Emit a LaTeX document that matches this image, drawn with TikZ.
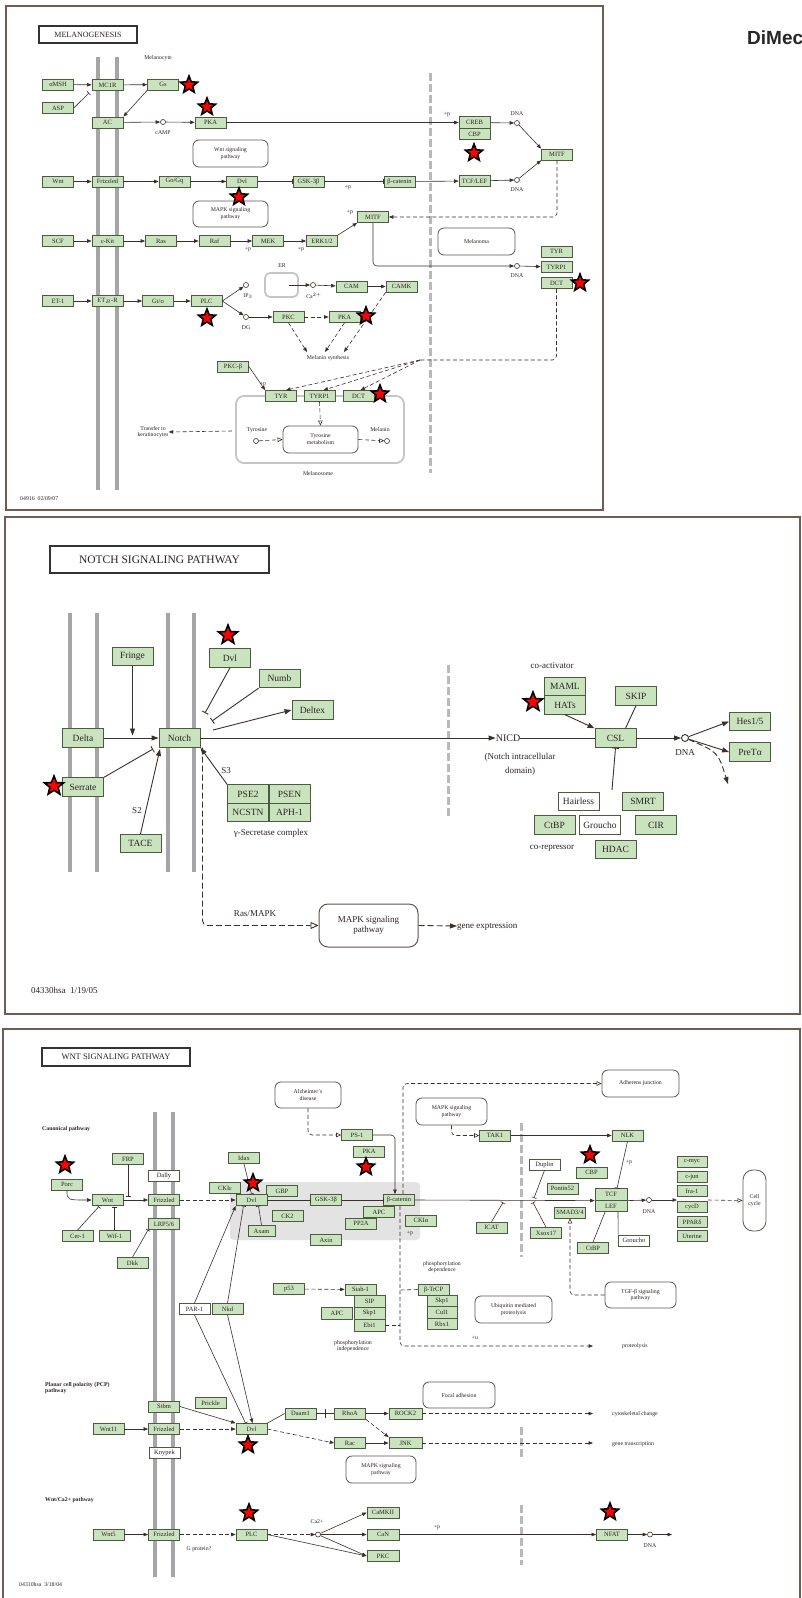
\documentclass[tikz,border=0pt]{standalone}
\usepackage{fontspec}
\setmainfont{Liberation Serif}
\newfontfamily\sansb{Liberation Sans}
\usetikzlibrary{arrows.meta,shapes.geometric}
\definecolor{bfill}{RGB}{200,227,190}
\definecolor{bdraw}{RGB}{75,90,65}
\definecolor{linec}{RGB}{60,48,44}
\definecolor{memc}{RGB}{165,165,168}
\definecolor{gdc}{RGB}{185,185,188}
\definecolor{tcol}{RGB}{45,35,35}
\definecolor{panc}{RGB}{115,90,85}
\definecolor{pwc}{RGB}{95,85,80}
\tikzset{
 gb/.style={draw=bdraw, fill=bfill, line width=0.7pt, minimum width=31pt, minimum height=11pt, inner sep=0pt, font=\fontsize{6.5}{6.5}\selectfont, text=tcol},
 gbw/.style={gb, fill=white},
 nb/.style={gb, minimum width=41pt, minimum height=18.5pt, line width=0.9pt, font=\fontsize{9.5}{10}\selectfont},
 nbw/.style={nb, fill=white},
 pw/.style={draw=pwc, fill=white, rounded corners=6pt, line width=0.8pt, align=center, inner sep=0pt, font=\fontsize{5.8}{6.8}\selectfont, text=tcol},
 npw/.style={pw, rounded corners=9pt, line width=1pt, font=\fontsize{9}{10.5}\selectfont},
 lab/.style={inner sep=0pt, align=center, font=\fontsize{5.8}{6.8}\selectfont, text=tcol},
 nlab/.style={lab, font=\fontsize{9}{10.5}\selectfont},
 blab/.style={inner sep=0pt, align=left, anchor=west, font=\bfseries\fontsize{5.8}{6.8}\selectfont, text=tcol},
 ttl/.style={draw=black!80, line width=1.3pt, fill=white, inner sep=0pt, text=tcol},
 cir/.style={circle, draw=linec, fill=white, line width=0.6pt, minimum size=5pt, inner sep=0pt},
 rs/.style={star, star points=5, star point ratio=2.3, fill=red, draw=black, line width=1.6pt, minimum size=18pt, inner sep=0pt},
 ln/.style={draw=linec, line width=0.6pt},
 ar/.style={ln, -{Triangle[length=4.5pt,width=3.5pt]}},
 inh/.style={ln, -{Bar[width=5pt]}},
 dar/.style={ar, dash pattern=on 4pt off 2.5pt},
 dln/.style={ln, dash pattern=on 4pt off 2.5pt},
 oar/.style={dln, -{Triangle[open,length=5pt,width=4.5pt]}},
 nln/.style={draw=linec, line width=0.9pt},
 nar/.style={nln, -{Triangle[length=7pt,width=5pt]}},
 ninh/.style={nln, -{Bar[width=7pt]}},
 ndar/.style={nar, dash pattern=on 6pt off 3pt},
 noar/.style={nln, dash pattern=on 6pt off 3pt, -{Triangle[open,length=8pt,width=7pt]}},
 mem/.style={draw=memc, line width=4pt},
 gdash/.style={draw=gdc, line width=3pt, dash pattern=on 8pt off 3pt},
 panel/.style={draw=panc, line width=1.2pt},
 grayb/.style={draw=gray!45, line width=1.8pt, inner sep=0pt},
}
\begin{document}
\begin{tikzpicture}[x=1pt,y=-1pt]
\useasboundingbox (0,0) rectangle (801,1598);
\clip (0,0) rectangle (801,1598);
\fill[white] (0,0) rectangle (801,1598);

% ================= MELANOGENESIS =================
\draw[panel] (6,6) rectangle (603,510);
\node[anchor=west, font=\sansb\bfseries\fontsize{19}{19}\selectfont, text=black!85, inner sep=0pt] (dime) at (747,38) {DiMec};
\node[ttl, minimum width=98pt, minimum height=17pt, font=\fontsize{8}{8}\selectfont] (t1) at (88,34.5) {MELANOGENESIS};
\node[lab] (melanocyte) at (158,58) {Melanocyte};
\draw[mem] (98,57) -- (98,490);
\draw[mem] (117,57) -- (117,490);
\draw[gdash] (430,73) -- (430,473);

\node[pw, minimum width=75pt, minimum height=27pt] (wntpw) at (230.5,153.5) {Wnt signaling\\pathway};
\node[pw, minimum width=75pt, minimum height=26pt] (mapkpw1) at (230.5,214) {MAPK signaling\\pathway};
\node[grayb, rounded corners=5pt, minimum width=33pt, minimum height=24pt] (ER) at (281.5,285) {};
\node[lab] (erl) at (282,266) {ER};
\node[grayb, rounded corners=8pt, minimum width=168pt, minimum height=67pt] (melanosome) at (320,429.5) {};
\node[pw, minimum width=77pt, minimum height=27pt] (melanoma) at (476.5,241.5) {Melanoma};
\node[pw, minimum width=75pt, minimum height=27pt] (tyrmet) at (320.5,439.5) {Tyrosine\\metabolism};

\node[gb] (aMSH) at (58,84.5) {αMSH};
\node[gb] (MC1R) at (107.5,85) {MC1R};
\node[gb] (Gs) at (163,84.5) {Gs};
\node[gb] (ASP) at (58,108) {ASP};
\node[gb] (AC) at (107.5,122.5) {AC};
\node[cir] (cAMP) at (163,122) {};
\node[lab] (cAMPl) at (163,133) {cAMP};
\node[gb] (PKAa) at (210.5,122.5) {PKA};

\node[gb] (Wnta) at (58,181.5) {Wnt};
\node[gb] (Fza) at (107.5,181.5) {Frizzled};
\node[gb] (GoGq) at (174.5,181.5) {Go/Gq};
\node[gb] (Dvla) at (242,181.5) {Dvl};
\node[gb] (GSKa) at (308.5,181.5) {GSK-3β};
\node[gb] (bcata) at (399.5,181.5) {β-catenin};
\node[lab] (pp1) at (348,187) {+p};
\node[gb] (MITFb) at (373,217) {MITF};
\node[lab] (pp2) at (350,212) {+p};

\node[gb] (SCF) at (58,241) {SCF};
\node[gb] (cKit) at (107.5,241) {c-Kit};
\node[gb] (Ras) at (161,241) {Ras};
\node[gb] (Raf) at (214.5,241) {Raf};
\node[gb] (MEK) at (268,241) {MEK};
\node[gb] (ERK) at (322,241) {ERK1/2};
\node[lab] (pp3) at (248,249) {+p};
\node[lab] (pp4) at (301,249) {+p};

\node[gb] (ET1) at (58,301) {ET-1};
\node[gb] (ETBR) at (107.5,301) {ET$_B$-R};
\node[gb] (Gio) at (158,301) {Gi/o};
\node[gb] (PLCa) at (206.5,301) {PLC};
\node[cir] (IP3) at (246,285) {};
\node[lab] (IP3l) at (248,296) {IP$_3$};
\node[cir] (Ca) at (313,285) {};
\node[lab] (Cal) at (314,296) {Ca$^{2+}$};
\node[gb] (CAM) at (351.5,286.5) {CAM};
\node[gb] (CAMK) at (401.5,286.5) {CAMK};
\node[cir] (DG) at (246,317) {};
\node[lab] (DGl) at (246,328) {DG};
\node[gb] (PKCa) at (288.5,317) {PKC};
\node[gb] (PKAb) at (344.5,317) {PKA};
\node[lab] (msyn) at (328,358) {Melanin synthesis};
\node[gb] (PKCb) at (233,366.5) {PKC-β};
\node[lab] (pp5) at (263,384) {+p};
\node[gb] (TYRa) at (281,396) {TYR};
\node[gb] (TYRPa) at (319.5,396) {TYRP1};
\node[gb] (DCTa) at (358.5,396) {DCT};
\node[lab] (tyrl) at (257,430) {Tyrosine};
\node[cir] (tyrc) at (256,441) {};
\node[lab] (mell) at (380,430) {Melanin};
\node[cir] (melc) at (387,441) {};
\node[lab] (transfer) at (153,432) {Transfer to\\keratinocytes};
\node[lab] (melsl) at (318,474) {Melanosome};
\node[lab, anchor=west] (code1) at (20,499) {04916\ \ 02/09/07};

\node[gb, minimum height=11.5pt] (CREB) at (474.5,122.5) {CREB};
\node[gb, minimum height=11.5pt] (CBP) at (474.5,134) {CBP};
\node[lab] (pp6) at (447,114) {+p};
\node[cir] (dna1) at (517,123) {};
\node[lab] (dna1l) at (517,114) {DNA};
\node[gb] (MITFa) at (557,154.5) {MITF};
\node[gb] (TCFa) at (474.5,181) {TCF/LEF};
\node[cir] (dna2) at (517,180) {};
\node[lab] (dna2l) at (517,190) {DNA};
\node[gb] (TYRb) at (556.5,251.5) {TYR};
\node[gb] (TYRPb) at (556.5,267) {TYRP1};
\node[gb] (DCTb) at (556.5,283) {DCT};
\node[cir] (dna3) at (517,266) {};
\node[lab] (dna3l) at (517,276) {DNA};

% connectors
\coordinate (aspE) at (89,93);
\draw[ar] (aMSH) -- (MC1R);
\draw[inh] (ASP.east) -- (aspE);
\draw[ar] (MC1R) -- (Gs);
\draw[ar] (Gs.south west) -- (AC.north east);
\draw[ar] (AC) -- (cAMP);
\draw[ar] (cAMP) -- (PKAa);
\draw[ar] (PKAa) -- (CREB);
\draw[ar] (CREB) -- (dna1);
\draw[ar] (dna1) -- (MITFa.north west);
\draw[ar] (Wnta) -- (Fza);
\draw[ar] (Fza) -- (GoGq);
\draw[ar] (GoGq) -- (Dvla);
\draw[inh] (Dvla) -- (GSKa);
\draw[inh] (GSKa) -- (bcata);
\draw[ar] (bcata) -- (TCFa);
\draw[ar] (TCFa) -- (dna2);
\draw[ar] (dna2) -- (MITFa.south west);
\draw[dar, rounded corners=4pt] (MITFa.south) |- (MITFb.east);
\draw[ar] (SCF) -- (cKit);
\draw[ar] (cKit) -- (Ras);
\draw[ar] (Ras) -- (Raf);
\draw[ar] (Raf) -- (MEK);
\draw[ar] (MEK) -- (ERK);
\draw[ar] (ERK.north east) -- (MITFb.south west);
\draw[ar, rounded corners=4pt] (MITFb.south) |- (dna3);
\draw[ar] (dna3) -- (TYRPb);
\draw[ar] (ET1) -- (ETBR);
\draw[ar] (ETBR) -- (Gio);
\draw[ar] (Gio) -- (PLCa);
\draw[ar] (PLCa.east) -- (IP3);
\draw[ar] (PLCa.east) -- (DG);
\coordinate (erin) at (289,285);
\draw[ar] (erin) -- (Ca);
\draw[ar] (Ca) -- (CAM);
\draw[ar] (CAM) -- (CAMK);
\draw[ar] (DG) -- (PKCa);
\draw[dar] (PKCa) -- (PKAb);
\coordinate (ms1) at (307,352);
\coordinate (ms2) at (325,352);
\coordinate (ms3) at (344,352);
\draw[dar] (PKCa.south) -- (ms1);
\draw[dar] (PKAb.south) -- (ms2);
\draw[dar] (CAMK.south west) -- (ms3);
\coordinate (fan) at (420,360);
\draw[dln, rounded corners=4pt] (DCTb.south) |- (fan);
\draw[dar] (fan) -- ([xshift=5pt]TYRa.north);
\draw[dar] (fan) -- ([xshift=4pt]TYRPa.north);
\draw[dar] (fan) -- ([xshift=2pt]DCTa.north);
\draw[ar] (PKCb.east) -- (TYRa.north west);
\draw[oar] (TYRPa.south) -- (tyrmet.north);
\draw[oar] (tyrc) -- (tyrmet.west);
\draw[oar] (tyrmet.east) -- (melc);
\coordinate (trs) at (232,431);
\draw[dar] (trs) -- (transfer.east);

\node[rs] (s1) at (189,85) {};
\node[rs] (s2) at (207,107) {};
\node[rs] (s3) at (239,197) {};
\node[rs] (s4) at (207,318) {};
\node[rs] (s5) at (366,316) {};
\node[rs] (s6) at (380,394) {};
\node[rs] (s7) at (474,153) {};
\node[rs] (s8) at (580,283) {};

% ================= NOTCH =================
\draw[panel] (5,517) rectangle (800,1014);
\node[ttl, minimum width=219pt, minimum height=27pt, font=\fontsize{11.5}{12}\selectfont] (t2) at (159.5,559.5) {NOTCH SIGNALING PATHWAY};
\foreach \xx in {70,97,168,194} \draw[mem] (\xx,613) -- (\xx,872);
\draw[gdash] (448,665) -- (448,817);

\node[npw, minimum width=99pt, minimum height=43pt] (MAPK2) at (368.5,925.5) {MAPK signaling\\pathway};
\node[nb] (Fringe) at (132.5,656.5) {Fringe};
\node[nb] (Dvl2) at (230,658) {Dvl};
\node[nb] (Numb) at (279.5,678.5) {Numb};
\node[nb] (Deltex) at (312.5,710) {Deltex};
\node[nb] (Delta) at (83,738) {Delta};
\node[nb] (Notch) at (179.5,738) {Notch};
\node[nb] (Serrate) at (83,787) {Serrate};
\node[nb] (TACE) at (140.5,843.5) {TACE};
\node[nb] (PSE2) at (248,794) {PSE2};
\node[nb] (PSEN) at (289.5,794) {PSEN};
\node[nb] (NCSTN) at (248,812.5) {NCSTN};
\node[nb] (APH1) at (289.5,812.5) {APH-1};
\node[nlab] (gsec) at (271,833) {γ-Secretase complex};
\node[nlab] (S3) at (226,771) {S3};
\node[nlab] (S2) at (137,811) {S2};
\node[nlab] (coact) at (552,666) {co-activator};
\node[nb] (MAML) at (565,686.5) {MAML};
\node[nb] (HATs) at (565,705) {HATs};
\node[nb] (SKIP) at (636,696) {SKIP};
\node[nb] (CSL) at (615.5,738) {CSL};
\node[nlab, font=\fontsize{10}{11}\selectfont] (NICD) at (508,738) {NICD};
\node[nlab] (nicdl) at (520,757) {(Notch intracellular};
\node[nlab] (nicdl2) at (520,771) {domain)};
\node[circle, draw=linec, line width=0.9pt, minimum size=7pt, inner sep=0pt] (dnaN) at (685,738) {};
\node[nlab] (dnaNl) at (685,753) {DNA};
\node[nb] (Hes) at (750,721.5) {Hes1/5};
\node[nb] (PreTx) at (750,752) {PreTα};
\node[nbw] (Hairless) at (578.5,801.5) {Hairless};
\node[nb] (SMRT) at (643,801.5) {SMRT};
\node[nb] (CtBP) at (554.5,825) {CtBP};
\node[nbw] (Groucho) at (600,825) {Groucho};
\node[nb] (CIR) at (656,825) {CIR};
\node[nb] (HDAC) at (615.5,849.5) {HDAC};
\node[nlab] (corep) at (552,848) {co-repressor};
\node[nlab] (rasmapk) at (255,914) {Ras/MAPK};
\node[nlab, anchor=west] (geneexp) at (457,926) {gene exptression};
\node[nlab, anchor=west] (code2) at (31,990) {04330hsa\ \ 1/19/05};

\coordinate (frE) at (132.5,735.5);
\coordinate (dvlE) at (205,713);
\coordinate (numbE) at (212,721);
\coordinate (dtxS) at (213,730);
\coordinate (hairS) at (612,790);
\coordinate (serE) at (153,749);
\coordinate (tacE) at (160,749);
\coordinate (dnaE) at (728,784);
\draw[nar] (Delta) -- (Notch);
\draw[nar] (Fringe.south) -- (frE);
\draw[ninh] (Dvl2.south) -- (dvlE);
\draw[ninh] (Numb.south west) -- (numbE);
\draw[nar] (dtxS) -- (Deltex.west);
\draw[nar] (Notch) -- (NICD);
\draw[nln] (NICD) -- (CSL);
\draw[nar] (HATs.south) -- (CSL.north west);
\draw[nln] (SKIP.south) -- ([xshift=10pt]CSL.north);
\draw[nar] (CSL) -- (dnaN);
\draw[nar] (dnaN) -- (Hes.west);
\draw[nar] (dnaN) -- (PreTx.west);
\draw[ndar] (dnaN) .. controls (718,752) .. (dnaE);
\draw[ninh] (hairS) -- (CSL.south);
\draw[ninh] (Serrate.north east) -- (serE);
\draw[nar] (TACE.north) -- (tacE);
\draw[nar] (PSE2.north west) -- (Notch.south east);
\draw[noar, rounded corners=5pt] ([xshift=2pt]Notch.south east) |- (MAPK2.west);
\draw[ndar] (MAPK2.east) -- (geneexp.west);

\node[rs, minimum size=20pt] (s9) at (228,635) {};
\node[rs, minimum size=20pt] (s10) at (54,786) {};
\node[rs, minimum size=20pt] (s11) at (533,702) {};

% ================= WNT =================
\draw[panel] (3,1029) rectangle (800,1610);
\node[ttl, minimum width=148pt, minimum height=18pt, font=\fontsize{8.5}{9}\selectfont] (t3) at (116,1057) {WNT SIGNALING PATHWAY};
\node[blab] (canon) at (42,1129) {Canonical pathway};
\draw[mem] (155,1112) -- (155,1577);
\draw[mem] (173,1112) -- (173,1577);
\draw[gdash] (521,1123) -- (521,1257);
\draw[gdash] (521,1427) -- (521,1458);
\draw[gdash] (521,1505) -- (521,1565);
\fill[gray!22, rounded corners=4pt] (230,1182) rectangle (420,1240);

\node[pw, minimum width=66pt, minimum height=26pt] (alz) at (308,1095) {Alzheimer's\\disease};
\node[pw, minimum width=77pt, minimum height=27pt] (adh) at (640.5,1083.5) {Adherens junction};
\node[pw, minimum width=71pt, minimum height=27pt] (mapk3) at (451.5,1111.5) {MAPK signaling\\pathway};
\node[pw, minimum width=71pt, minimum height=26pt] (TGFb) at (640.5,1295) {TGF-β signaling\\pathway};
\node[pw, minimum width=77pt, minimum height=27pt] (ubiq) at (513.5,1309.5) {Ubiquitin mediated\\proteolysis};
\node[pw, rounded corners=10pt, minimum width=23pt, minimum height=61pt] (cellcycle) at (754.5,1200.5) {Cell\\cycle};
\node[pw, minimum width=72pt, minimum height=26pt] (focal) at (459,1395) {Focal adhesion};
\node[pw, minimum width=70pt, minimum height=27pt] (mapk4) at (381,1469.5) {MAPK signaling\\pathway};

\node[gb] (PS1) at (357,1135) {PS-1};
\node[gb] (PKA3) at (369,1151.5) {PKA};
\node[gb] (FRP) at (128,1159) {FRP};
\node[gbw] (Dally) at (164,1176) {Dally};
\node[gb] (Porc) at (67,1184.5) {Porc};
\node[gb] (CKIe) at (225,1188) {CKIε};
\node[gb] (Idax) at (244,1158) {Idax};
\node[gb] (GBP) at (282,1191) {GBP};
\node[gb] (Wnt2) at (107.5,1200) {Wnt};
\node[gb] (Fz2) at (164,1200) {Frizzled};
\node[gb] (Dvl3) at (251.5,1200) {Dvl};
\node[gb] (GSK2) at (326,1200) {GSK-3β};
\node[gb] (bcat2) at (399,1200) {β-catenin};
\node[gb] (APC1) at (379,1212) {APC};
\node[gb] (PP2A) at (361,1223.5) {PP2A};
\node[gb] (CK2) at (287.5,1216) {CK2};
\node[gb, minimum width=27pt] (Axam) at (261.5,1231) {Axam};
\node[gb] (Axin) at (326,1240) {Axin};
\node[gb] (LRP) at (164,1224) {LRP5/6};
\node[gb] (Cer1) at (77.5,1236) {Cer-1};
\node[gb] (Wif1) at (114.5,1236) {Wif-1};
\node[gb] (Dkk) at (132.5,1263) {Dkk};
\node[gbw] (PAR1) at (194.5,1309) {PAR-1};
\node[gb] (Nkd) at (227.5,1309) {Nkd};
\node[gb] (p53) at (289,1289) {p53};
\node[gb] (Siah) at (360.5,1289.5) {Siah-1};
\node[gb, minimum height=12pt] (SIP) at (369.5,1301) {SIP};
\node[gb, minimum height=12pt] (Skp1a) at (369.5,1313) {Skp1};
\node[gb, minimum height=12pt] (Ebi) at (369.5,1325) {Ebi1};
\node[gb, minimum height=12pt] (APC2) at (337,1313) {APC};
\node[lab] (phind) at (353,1346) {phosphorylation\\independence};
\node[gb] (TAK1) at (495,1135.5) {TAK1};
\node[gb] (NLK) at (627.5,1135.5) {NLK};
\node[gbw] (Duplin) at (544.5,1164.5) {Duplin};
\node[gb] (CBP2) at (591.5,1172.5) {CBP};
\node[gb] (Pontin) at (562.5,1188.5) {Pontin52};
\node[gb, minimum width=32pt, minimum height=11.5pt] (TCF) at (611,1194.5) {TCF};
\node[gb, minimum width=32pt, minimum height=11.5pt] (LEF) at (611,1206) {LEF};
\node[lab] (pp7) at (629,1162) {+p};
\node[gb, minimum width=30pt] (cmyc) at (692,1162) {c-myc};
\node[gb, minimum width=30pt] (cjun) at (692,1177) {c-jun};
\node[gb, minimum width=30pt] (fra1) at (692,1191) {fra-1};
\node[gb, minimum width=30pt] (cycD) at (692,1207) {cycD};
\node[gb, minimum width=30pt] (PPAR) at (692,1222) {PPARδ};
\node[gb, minimum width=30pt] (Uter) at (692,1236) {Uterine};
\node[cir] (dnaW) at (649,1200) {};
\node[lab] (dnaWl) at (649,1212) {DNA};
\node[gb] (CKIa) at (421,1220.5) {CKIα};
\node[lab] (pp8) at (410,1233) {+p};
\node[gb] (ICAT) at (491.5,1227.5) {ICAT};
\node[gb] (Xsox) at (546,1233) {Xsox17};
\node[gb] (SMAD) at (570,1212.5) {SMAD3/4};
\node[gb] (CtBP2) at (593,1248) {CtBP};
\node[gbw] (Groucho2) at (634,1240.5) {Groucho};
\node[lab] (phdep) at (442,1267) {phosphorylation\\dependence};
\node[gb] (bTrCP) at (433.5,1289.5) {β-TrCP};
\node[gb, minimum width=30pt, minimum height=11.5pt] (Skp1b) at (442,1301) {Skp1};
\node[gb, minimum width=30pt, minimum height=11.5pt] (Cul1) at (442,1312.5) {Cul1};
\node[gb, minimum width=30pt, minimum height=11.5pt] (Rbx1) at (442,1324) {Rbx1};
\node[lab] (pu) at (475,1338) {+u};
\node[lab, anchor=west] (proteo) at (622,1346) {proteolysis};

\node[blab] (pcp) at (45,1388) {Planar cell polarity (PCP)\\pathway};
\node[gb] (Stbm) at (164,1406.5) {Stbm};
\node[gb] (Prickle) at (210.5,1403) {Prickle};
\node[gb] (Wnt11) at (108.5,1429) {Wnt11};
\node[gb] (Fz3) at (164,1429) {Frizzled};
\node[gbw] (Knypek) at (164.5,1452.5) {Knypek};
\node[gb] (Dvl4) at (251.5,1429) {Dvl};
\node[gb] (Daam1) at (300.5,1413.5) {Daam1};
\node[gb] (RhoA) at (350,1413.5) {RhoA};
\node[gb, minimum width=33pt] (ROCK2) at (405.5,1413.5) {ROCK2};
\node[gb] (Rac) at (350,1443) {Rac};
\node[gb, minimum width=33pt] (JNK) at (405.5,1443) {JNK};
\node[lab, anchor=west] (cyto) at (612,1414) {cytoskeletal change};
\node[lab, anchor=west] (gtr) at (612,1444) {gene transcription};

\node[blab] (capw) at (45,1500) {Wnt/Ca2+ pathway};
\node[gb] (Wnt5) at (108.5,1534.5) {Wnt5};
\node[gb] (Fz4) at (164,1534.5) {Frizzled};
\node[gb] (PLC2) at (251.5,1534.5) {PLC};
\node[lab] (gprot) at (199,1549) {G protein?};
\node[cir] (Cac2) at (318,1534.5) {};
\node[lab] (Cac2l) at (317,1522) {Ca2+};
\node[gb, minimum width=32pt] (CaMKII) at (383,1512.5) {CaMKII};
\node[gb, minimum width=32pt] (CaN) at (383,1534.5) {CaN};
\node[gb, minimum width=32pt] (PKC2) at (383,1556) {PKC};
\node[lab] (pp9) at (437,1527) {+p};
\node[gb] (NFAT) at (612,1534.5) {NFAT};
\node[cir] (dnaC) at (650,1534.5) {};
\node[lab] (dnaCl) at (650,1546) {DNA};
\node[lab, anchor=west] (code3) at (19,1584) {04310hsa\ \ 3/18/04};

% wnt connectors
\coordinate (frpE) at (128,1197);
\coordinate (dupE) at (534,1198);
\coordinate (icatE) at (503,1202.5);
\coordinate (xsoxE) at (533,1202.5);
\coordinate (protE) at (593,1346);
\coordinate (ebiE) at (400,1325);
\coordinate (btE) at (400,1290);
\coordinate (tgtL) at (677,1200);
\coordinate (tgtR) at (708,1200);
\coordinate (cytE) at (593,1413.5);
\coordinate (gtE) at (593,1443);
\coordinate (dnaCE) at (672,1534.5);
\draw[oar, rounded corners=4pt] (alz.south) |- (PS1.west);
\draw[ar, rounded corners=4pt] (PS1.east) -| ([xshift=-4pt]bcat2.north);
\draw[inh] (FRP.south) -- (frpE);
\draw[ar] (Porc.south) .. controls (67,1200) .. (Wnt2.west);
\draw[ar] (Wnt2) -- (Fz2);
\draw[dar] (Fz2) -- (Dvl3);
\draw[inh] (Dvl3) -- (GSK2);
\draw[inh] (GSK2) -- (bcat2);
\draw[inh, shorten >=1pt] (Cer1.north) -- ([xshift=-8pt]Wnt2.south);
\draw[inh, shorten >=1pt] (Wif1.north) -- (Wif1.north |- Wnt2.south);
\draw[inh] (Dkk.north) -- (LRP.south west);
\draw[inh] (Idax.south) -- (Dvl3.north);
\draw[ar] (PAR1.north) -- (Dvl3.south west);
\draw[inh] (Nkd.north) -- ([xshift=-8pt]Dvl3.south);
\draw[inh] (Axam.north) -- ([xshift=7pt]Dvl3.south);
\draw[inh] (PAR1.south) -- ([xshift=-6pt]Dvl4.north);
\draw[ar] (Nkd.south) -- ([xshift=1pt]Dvl4.north);
\draw[dar] (p53) -- (Siah);
\draw[dln] (Ebi.east) -- (ebiE);
\draw[dln] (bTrCP.west) -- (btE);
\draw[dar, rounded corners=4pt] ([xshift=1pt]bcat2.south) |- (protE);
\draw[oar, rounded corners=4pt] ([xshift=4pt]bcat2.north) |- (adh.west);
\draw[oar, rounded corners=4pt] (mapk3.south) |- (TAK1.west);
\draw[ar] (TAK1) -- (NLK);
\draw[inh] (NLK.south) -- ([xshift=6pt]TCF.north);
\draw[ar] (bcat2.east) -- (TCF.south west);
\draw[inh] (Duplin.south) -- (dupE);
\draw[inh] (ICAT.north) -- (icatE);
\draw[inh] (Xsox.north) -- (xsoxE);
\draw[oar, rounded corners=4pt] (TGFb.west) -| (SMAD.south);
\draw[ln] (CtBP2.north) -- ([xshift=-6pt]LEF.south);
\draw[ln] (Groucho2.north west) -- ([xshift=7pt]LEF.south);
\draw[ar] (TCF.south east) -- (dnaW);
\draw[ar] (dnaW) -- (tgtL);
\draw[oar] (tgtR) -- (cellcycle.west);

\draw[ar] (Wnt11) -- (Fz3);
\draw[dar] (Fz3) -- (Dvl4);
\draw[ar] (Stbm.east) -- (Dvl4.north west);
\draw[ln] (Dvl4.north east) -- (Daam1.west);
\draw[ln] (Daam1) -- node[draw=linec, line width=0.7pt, minimum width=0pt, minimum height=9pt, inner sep=0pt] (dbar) {} (RhoA);
\draw[ar] (RhoA) -- (ROCK2);
\draw[dar] (RhoA.south east) -- (JNK.north west);
\draw[dar] (ROCK2) -- (cytE);
\draw[dar] (Dvl4.east) -- (Rac.west);
\draw[ar] (Rac) -- (JNK);
\draw[dar] (JNK) -- (gtE);

\draw[ar] (Wnt5) -- (Fz4);
\draw[dar] (Fz4) -- (PLC2);
\draw[dar] (PLC2) -- (Cac2);
\draw[ar] (Cac2) -- (CaMKII.west);
\draw[ar] (Cac2) -- (CaN);
\draw[ar] (Cac2) -- (PKC2.west);
\draw[ar] (PLC2.east) -- (PKC2.west);
\draw[ar] (CaN) -- (NFAT);
\draw[ar] (NFAT) -- (dnaC);
\draw[ar] (dnaC) -- (dnaCE);

\node[rs] (s12) at (65,1165) {};
\node[rs] (s13) at (253,1183) {};
\node[rs] (s14) at (366,1167) {};
\node[rs] (s15) at (590,1155) {};
\node[rs] (s16) at (248,1445) {};
\node[rs] (s17) at (249,1513) {};
\node[rs] (s18) at (610,1512) {};
\end{tikzpicture}
\end{document}
